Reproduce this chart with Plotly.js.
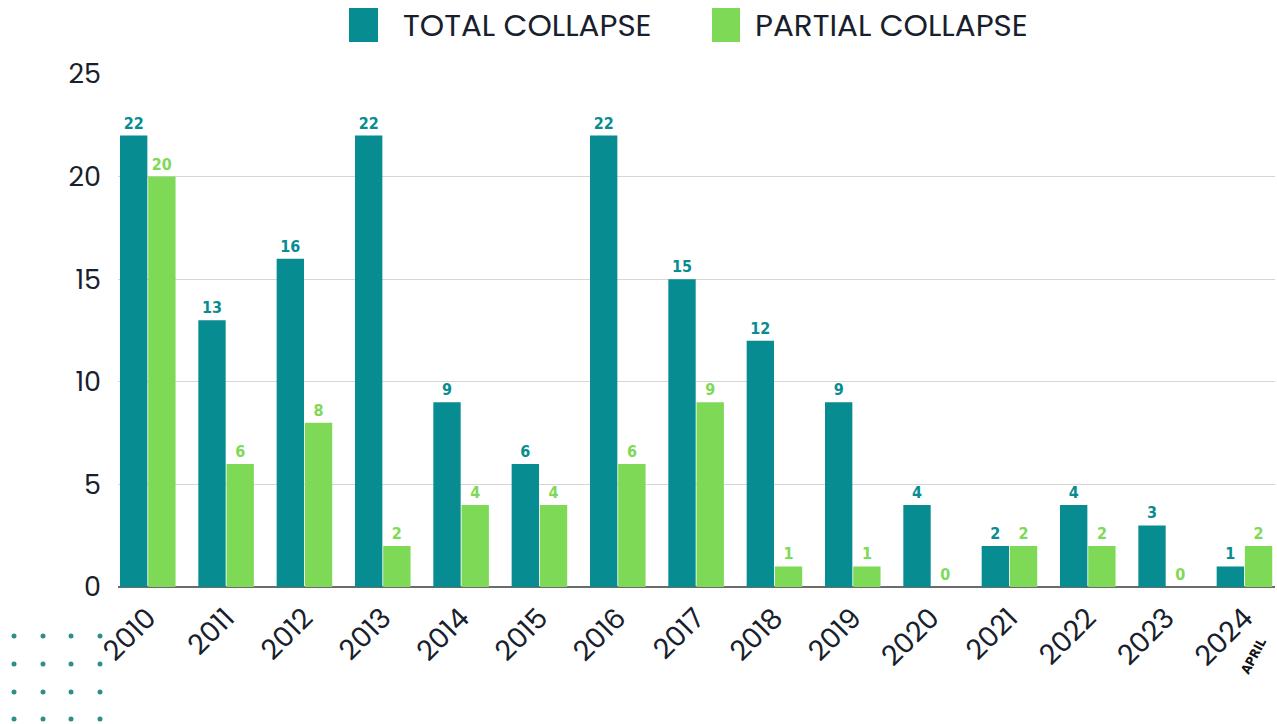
<!DOCTYPE html>
<html><head><meta charset="utf-8">
<script src="https://cdn.plot.ly/plotly-3.0.1.min.js"></script>
<style>html,body{margin:0;padding:0;background:#fff}#chart{width:1277px;height:724px}</style>
</head><body><div id="chart"></div>
<script>
const years = ["2010","2011","2012","2013","2014","2015","2016","2017","2018","2019","2020","2021","2022","2023","2024"];
const totalCollapse = [22,13,16,22,9,6,22,15,12,9,4,2,4,3,1];
const partialCollapse = [20,6,8,2,4,4,6,9,1,1,0,2,2,0,2];
const seriesNames = ["TOTAL COLLAPSE","PARTIAL COLLAPSE"];
const yTicks = [0,5,10,15,20,25];

const teal = "#078c91", green = "#7ed957", ink = "#17202c";
const font = "Poppins, Inter, 'Open Sans', sans-serif";
const labelFont = "'DejaVu Sans Condensed', 'Liberation Sans Narrow', sans-serif";

const traces = [
  {type:"bar", name:seriesNames[0], x:years, y:totalCollapse, marker:{color:teal},
   text:totalCollapse.map(String), textposition:"outside", cliponaxis:false,
   textfont:{family:labelFont, size:16, color:teal, weight:700}, showlegend:false},
  {type:"bar", name:seriesNames[1], x:years, y:partialCollapse, marker:{color:green},
   text:partialCollapse.map(String), textposition:"outside", cliponaxis:false,
   textfont:{family:labelFont, size:16, color:green, weight:700}, showlegend:false}
];

function px(xp){return (xp-118)/1157;}
function py(yp){return (587-yp)/513;}
const legendShapes = [
  {type:"rect", xref:"paper", yref:"paper", x0:px(349), x1:px(378), y0:py(42), y1:py(8), fillcolor:teal, line:{width:0}},
  {type:"rect", xref:"paper", yref:"paper", x0:px(712), x1:px(740), y0:py(42), y1:py(8), fillcolor:green, line:{width:0}}
];
const dots = [];
[14,43,71,100].forEach(cx=>[636,664,692,719].forEach(cy=>{
  dots.push({type:"circle", xref:"paper", yref:"paper", x0:px(cx-2.5), x1:px(cx+2.5), y0:py(cy+2.5), y1:py(cy-2.5), fillcolor:"#2f8f86", line:{width:0}});
}));

const layout = {
  width:1277, height:724,
  margin:{l:118, r:2, t:74, b:137},
  paper_bgcolor:"#fff", plot_bgcolor:"#fff",
  barmode:"group", bargap:0.28, bargroupgap:0.03,
  font:{family:font, color:ink},
  xaxis:{type:"category", range:[-0.38,14.39], tickangle:-45, tickfont:{size:28, color:ink, family:font, weight:400},
         showgrid:false, ticks:"", showline:false, automargin:false, ticklabelstandoff:8},
  yaxis:{range:[0,25], tickvals:yTicks, tickfont:{size:27, color:ink, family:font, weight:400},
         gridcolor:"#d6d6d6", gridwidth:1, zeroline:true, zerolinecolor:"#6b6b6b", zerolinewidth:1.5,
         ticklabelstandoff:16, automargin:false, fixedrange:true},
  shapes: legendShapes.concat(dots),
  annotations:[
    {xref:"paper", yref:"paper", x:px(401), y:py(25), xanchor:"left", yanchor:"middle", text:seriesNames[0], showarrow:false,
     font:{family:font, size:31, color:ink, weight:400}},
    {xref:"paper", yref:"paper", x:px(753), y:py(25), xanchor:"left", yanchor:"middle", text:seriesNames[1], showarrow:false,
     font:{family:font, size:31, color:ink, weight:400}},
    {xref:"paper", yref:"paper", x:px(1253), y:py(656), xanchor:"center", yanchor:"middle", text:"APRIL", showarrow:false,
     textangle:-62, font:{family:labelFont, size:13, color:"#111", weight:700}}
  ],
  showlegend:false
};
Plotly.newPlot("chart", traces, layout, {displayModeBar:false, staticPlot:true});
</script></body></html>
